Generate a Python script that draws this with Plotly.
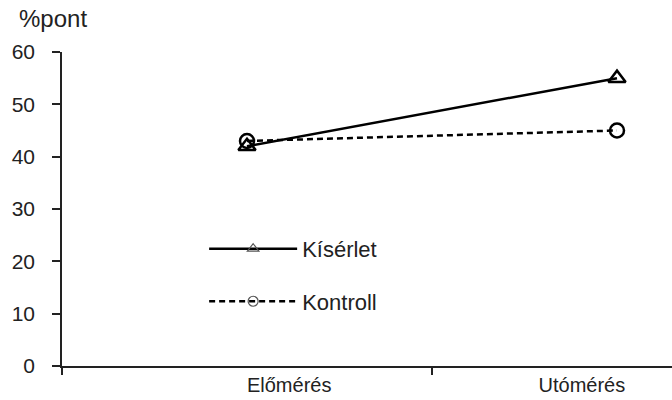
import plotly.graph_objects as go

# Measurement points and scores (%)
categories = ["Előmérés", "Utómérés"]
kiserlet = [42, 55]
kontroll = [43, 45]
series_names = ["Kísérlet", "Kontroll"]
y_title = "%pont"
y_ticks = [0, 10, 20, 30, 40, 50, 60]

FONT = "Liberation Sans, Arial, sans-serif"
INK = "#000000"
TEXT = "#222222"

# category centres sit in the middle of each unit-wide slot
x_pos = [i + 0.5 for i in range(len(categories))]
# category label positions along the axis
label_pos = [0.614, 1.405]

fig = go.Figure()

fig.add_trace(go.Scatter(
    x=x_pos, y=kiserlet, mode="lines+markers", showlegend=False,
    line=dict(color=INK, width=2.5),
    marker=dict(symbol="triangle-up-open", size=15, color=INK,
                line=dict(color=INK, width=2.5)),
    cliponaxis=False,
))
fig.add_trace(go.Scatter(
    x=x_pos, y=kontroll, mode="lines+markers", showlegend=False,
    line=dict(color=INK, width=2.5, dash="6px,4px"),
    marker=dict(symbol="circle-open", size=14, color=INK,
                line=dict(color=INK, width=2.5)),
    cliponaxis=False,
))

# legend entries with the lighter key symbols
fig.add_trace(go.Scatter(
    x=[None], y=[None], mode="lines+markers", name=series_names[0],
    legendgroup="a",
    line=dict(color=INK, width=2.5),
    marker=dict(symbol="triangle-up-open", size=10, color="#555555",
                line=dict(color="#555555", width=1.2)),
))
fig.add_trace(go.Scatter(
    x=[None], y=[None], mode="lines+markers", name=series_names[1],
    legendgroup="b",
    line=dict(color=INK, width=2.5, dash="6px,4px"),
    marker=dict(symbol="circle-open", size=10, color="#555555",
                line=dict(color="#555555", width=1.2)),
))

fig.update_layout(
    width=672, height=400,
    margin=dict(l=62, r=0, t=52, b=34),
    paper_bgcolor="white", plot_bgcolor="white",
    font=dict(family=FONT, size=20, color=TEXT),
    showlegend=True,
    legend=dict(
        x=0.233, y=0.44, xanchor="left", yanchor="top",
        bgcolor="rgba(0,0,0,0)", borderwidth=0,
        itemwidth=88, traceorder="grouped", tracegroupgap=21,
        font=dict(family=FONT, size=22, color=TEXT),
        itemclick=False,
    ),
    xaxis=dict(
        range=[0, 610 / 370], showgrid=False, zeroline=False,
        showline=True, linecolor=TEXT, linewidth=1.5,
        tickmode="array", tickvals=label_pos, ticktext=categories,
        ticks="", tickfont=dict(family=FONT, size=20, color=TEXT),
        minor=dict(tickmode="array", tickvals=[0, 1], ticks="outside",
                   ticklen=7, tickwidth=1.5, tickcolor=TEXT),
        fixedrange=True,
    ),
    yaxis=dict(
        range=[0, 60], tickvals=y_ticks, showgrid=False, zeroline=False,
        showline=True, linecolor=TEXT, linewidth=1.5,
        ticks="outside", ticklen=8, tickwidth=1.5, tickcolor=TEXT,
        ticklabelstandoff=13,
        tickfont=dict(family=FONT, size=21, color=TEXT),
        fixedrange=True,
    ),
    annotations=[dict(
        text=y_title, xref="paper", yref="paper", x=-62 / 610 + 17 / 610,
        y=1 + 34 / 314, xanchor="left", yanchor="middle", showarrow=False,
        font=dict(family=FONT, size=24, color=TEXT),
    )],
)

fig.write_html("out.html")
